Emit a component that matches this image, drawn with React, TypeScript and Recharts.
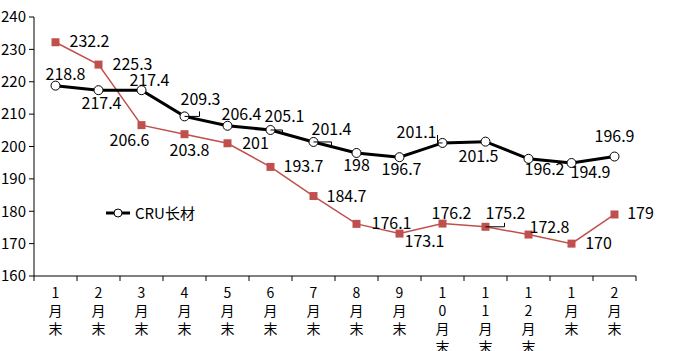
import { Legend, LabelList, Line, LineChart, XAxis, YAxis } from "recharts";

const months = [
  "1月末", "2月末", "3月末", "4月末", "5月末", "6月末", "7月末",
  "8月末", "9月末", "10月末", "11月末", "12月末", "1月末", "2月末",
];
const cruLong = [218.8, 217.4, 217.4, 209.3, 206.4, 205.1, 201.4, 198, 196.7, 201.1, 201.5, 196.2, 194.9, 196.9];
const otherSeries = [232.2, 225.3, 206.6, 203.8, 201, 193.7, 184.7, 176.1, 173.1, 176.2, 175.2, 172.8, 170, 179];
const yTicks = [160, 170, 180, 190, 200, 210, 220, 230, 240];

// label offsets (dx, dy from the point to the label centre)
const cruLabelPos = [
  [10, -13], [3, 12], [8, -11], [16, -18], [14, -13], [14, -15], [18, -14],
  [0, 11], [2, 11], [-26, -12], [-7, 13], [16, 9], [19, 8], [0, -22],
];
const otherLabelPos = [
  [34, -2], [34, -2], [-12, 14], [5, 15], [28, -1], [33, -2], [33, -1],
  [35, -2], [25, 6], [9, -12], [20, -15], [21, -9], [27, -2], [26, -2],
];
// little leader lines: [index, dx, dy]
const cruLeaders = [[3, 15, -5], [9, -5, -8], [5, 12, 5], [6, 18, 5]];
const otherLeaders = [[10, 19, -4]];

const data = months.map((m, i) => ({ month: m, cru: cruLong[i], other: otherSeries[i] }));

const FONT = '"Noto Sans CJK SC", "Noto Sans", sans-serif';
const RED = "#C0504D";

const makeLabel = (pos: number[][], leaders: number[][]) => (props: any) => {
  const { x, y, value, index } = props;
  const [dx, dy] = pos[index];
  const ld = leaders.find((l) => l[0] === index);
  return (
    <g>
      {ld && (
        <polyline
          points={`${x},${y} ${x + ld[1]},${y} ${x + ld[1]},${y + ld[2]}`}
          fill="none"
          stroke="#000"
          strokeWidth={1}
        />
      )}
      <text
        x={x + dx}
        y={y + dy}
        textAnchor="middle"
        dominantBaseline="central"
        fontSize={16}
        fontFamily={FONT}
        fill="#000"
      >
        {value}
      </text>
    </g>
  );
};

const XTick = (props: any) => {
  const { x, y, payload, index } = props;
  const half = 43 / 2;
  const chars = String(payload.value).split("");
  return (
    <g>
      <line x1={x - half} x2={x - half} y1={y} y2={y + 5} stroke="#000" />
      {index === months.length - 1 && (
        <line x1={x + half} x2={x + half} y1={y} y2={y + 5} stroke="#000" />
      )}
      <text x={x} y={y + 22} textAnchor="middle" fontSize={14} fontFamily={FONT} fill="#000">
        {chars.map((c, i) => (
          <tspan key={i} x={x} dy={i === 0 ? 0 : 18}>
            {c}
          </tspan>
        ))}
      </text>
    </g>
  );
};

const CruDot = (props: any) => (
  <circle key={props.index} cx={props.cx} cy={props.cy} r={4.5} fill="#fff" stroke="#000" strokeWidth={1} />
);

const SquareDot = (props: any) => (
  <rect key={props.index} x={props.cx - 4} y={props.cy - 4} width={8} height={8} fill={RED} />
);

const LegendBox = () => (
  <div style={{ display: "flex", alignItems: "center", fontFamily: FONT, fontSize: 15, color: "#000" }}>
    <svg width={26} height={12}>
      <line x1={1} x2={25} y1={6} y2={6} stroke="#000" strokeWidth={3} />
      <circle cx={13} cy={6} r={4} fill="#fff" stroke="#000" strokeWidth={1} />
    </svg>
    <span style={{ marginLeft: 4 }}>CRU长材</span>
  </div>
);

export default function App() {
  return (
    <div style={{ position: "absolute", left: 0, top: 0, background: "#fff" }}>
      <LineChart width={686} height={351} data={data} margin={{ top: 17, right: 50, left: 0, bottom: 0 }}>
        <XAxis
          dataKey="month"
          interval={0}
          height={75}
          padding={{ left: 21.5, right: 21.5 }}
          tickLine={false}
          tickSize={0}
          tickMargin={0}
          axisLine={{ stroke: "#000" }}
          tick={<XTick />}
        />
        <YAxis
          width={34}
          domain={[160, 240]}
          ticks={yTicks}
          interval={0}
          tickSize={5}
          tickMargin={3}
          axisLine={{ stroke: "#000" }}
          tickLine={{ stroke: "#000" }}
          tick={{ fill: "#000", fontSize: 15, fontFamily: FONT }}
        />
        <Legend
          verticalAlign="middle"
          layout="horizontal"
          content={<LegendBox />}
          wrapperStyle={{ left: 105, top: 202, width: "auto" }}
        />
        <Line
          dataKey="other"
          stroke={RED}
          strokeWidth={1.5}
          dot={<SquareDot />}
          isAnimationActive={false}
          legendType="none"
        >
          <LabelList dataKey="other" content={makeLabel(otherLabelPos, otherLeaders)} />
        </Line>
        <Line
          dataKey="cru"
          name="CRU长材"
          stroke="#000"
          strokeWidth={3}
          dot={<CruDot />}
          isAnimationActive={false}
        >
          <LabelList dataKey="cru" content={makeLabel(cruLabelPos, cruLeaders)} />
        </Line>
      </LineChart>
    </div>
  );
}
